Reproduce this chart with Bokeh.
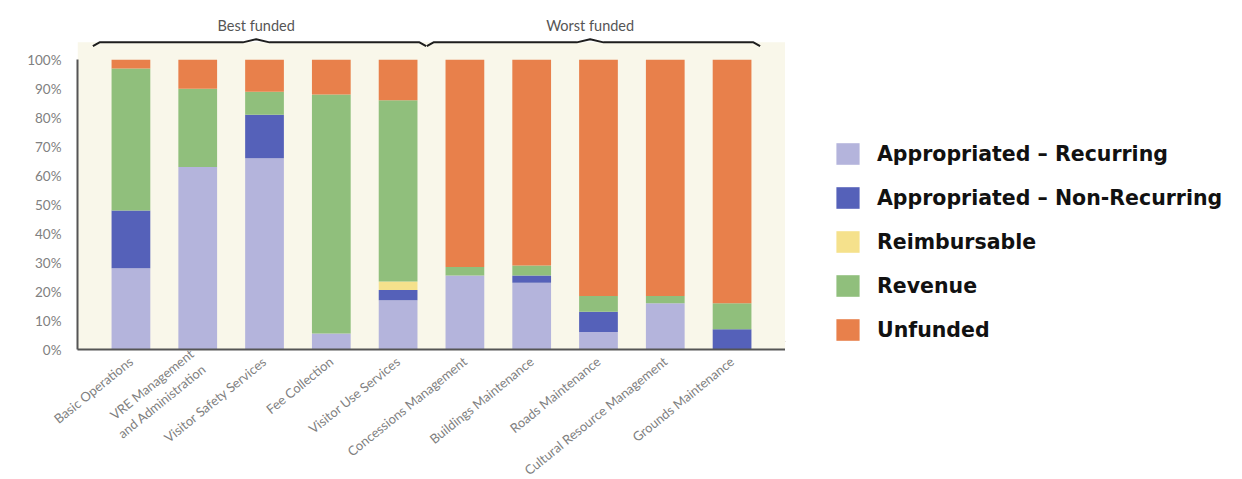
from bokeh.plotting import figure
from bokeh.layouts import row
from bokeh.models import (FactorRange, Range1d, Legend, LegendItem, FixedTicker,
                          PrintfTickFormatter, BoxAnnotation, ColumnDataSource)
from bokeh.embed import file_html
from bokeh.resources import INLINE
from bokeh.core.properties import value

categories = ["Basic Operations", "VRE Management\nand Administration", "Visitor Safety Services",
              "Fee Collection", "Visitor Use Services", "Concessions Management",
              "Buildings Maintenance", "Roads Maintenance", "Cultural Resource Management",
              "Grounds Maintenance"]
series = ["Appropriated – Recurring", "Appropriated – Non-Recurring", "Reimbursable",
          "Revenue", "Unfunded"]
rec    = [28, 63, 66, 5.5, 17, 25.5, 23, 6, 16, 0]
nonrec = [20, 0, 15, 0, 3.5, 0, 2.5, 7, 0, 7]
reimb  = [0, 0, 0, 0, 3, 0, 0, 0, 0, 0]
revenue= [49, 27, 8, 82.5, 62.5, 3, 3.5, 5.5, 2.5, 9]
unfunded = [round(100 - a - b - c - d, 1) for a, b, c, d in zip(rec, nonrec, reimb, revenue)]
groups = [("Best funded", 0, 4), ("Worst funded", 5, 9)]
yticks = [0, 10, 20, 30, 40, 50, 60, 70, 80, 90, 100]
colors = ["#b4b4dc", "#5561b9", "#f5e18c", "#90bf7c", "#e8804b"]
keys = ["rec", "nonrec", "reimb", "revenue", "unfunded"]

src = ColumnDataSource(dict(cat=categories, rec=rec, nonrec=nonrec, reimb=reimb,
                            revenue=revenue, unfunded=unfunded))

p = figure(frame_width=708, frame_height=339, output_backend="svg", toolbar_location=None,
           x_range=FactorRange(*categories, range_padding=0.3, range_padding_units="absolute"),
           y_range=Range1d(0, 117),
           min_border_left=77, min_border_right=0, min_border_top=10, min_border_bottom=130)
p.outline_line_color = None
p.background_fill_color = "white"
p.border_fill_color = "white"
p.xgrid.grid_line_color = None
p.ygrid.grid_line_color = None

p.add_layout(BoxAnnotation(bottom=0, top=106, fill_color="#f9f7ea", fill_alpha=1,
                           line_color=None, level="underlay"))

renderers = p.vbar_stack(keys, x="cat", width=0.58, color=colors, source=src, line_color=None)

# braces
font = "Lato"
for label, i0, i1 in groups:
    left = i0 - 0.07
    right = i1 + 0.92
    mid = (left + right) / 2 - 0.05
    y0 = 106
    xs = [left, left + 0.1, mid - 0.2, mid, mid + 0.2, right - 0.1, right]
    ys = [y0 - 1.3, y0, y0, y0 + 1.1, y0, y0, y0 - 1.3]
    p.line(xs, ys, line_color="#1e1e1e", line_width=2)
    p.text(x=[mid], y=[109], text=[label], text_align="center", text_baseline="bottom",
           text_font=value(font), text_font_size="14.5px", text_color="#555555")

p.yaxis.ticker = FixedTicker(ticks=yticks)
p.yaxis.formatter = PrintfTickFormatter(format="%d%%")
p.yaxis.bounds = (0, 100)
p.yaxis.major_tick_line_color = None
p.yaxis.minor_tick_line_color = None
p.yaxis.axis_line_color = "#555555"
p.yaxis.axis_line_width = 2
p.yaxis.major_label_text_font = font
p.yaxis.major_label_text_font_size = "13.5px"
p.yaxis.major_label_text_color = "#808080"
p.yaxis.major_label_standoff = 10

p.xaxis.major_tick_line_color = None
p.xaxis.axis_line_color = "#555555"
p.xaxis.axis_line_width = 2
p.xaxis.major_label_orientation = 0.68
p.xaxis.major_label_text_font = font
p.xaxis.major_label_text_font_size = "13px"
p.xaxis.major_label_text_color = "#808080"
p.xaxis.major_label_standoff = 4

# legend panel
p2 = figure(width=457, height=479, output_backend="svg", toolbar_location=None,
            x_range=Range1d(0, 1), y_range=Range1d(0, 1),
            x_axis_location=None, y_axis_location=None,
            min_border=0, outline_line_color=None)
p2.grid.visible = False
items = []
for s, c in zip(series, colors):
    r = p2.vbar(x=[-5], top=[-5], bottom=[-5], width=1, color=c, line_color=None)
    items.append(LegendItem(label=s, renderers=[r]))
legend = Legend(items=items, location=(48, -2), glyph_width=29, glyph_height=27,
                label_height=27, spacing=17, label_standoff=15, padding=0, margin=0,
                label_text_font="DejaVu Sans", label_text_font_style="bold",
                label_text_font_size="20.5px", label_text_color="#111111",
                border_line_color=None, background_fill_alpha=0)
p2.add_layout(legend, "center")

layout = row(p, p2, spacing=0)
open("out.html", "w").write(file_html(layout, INLINE))
